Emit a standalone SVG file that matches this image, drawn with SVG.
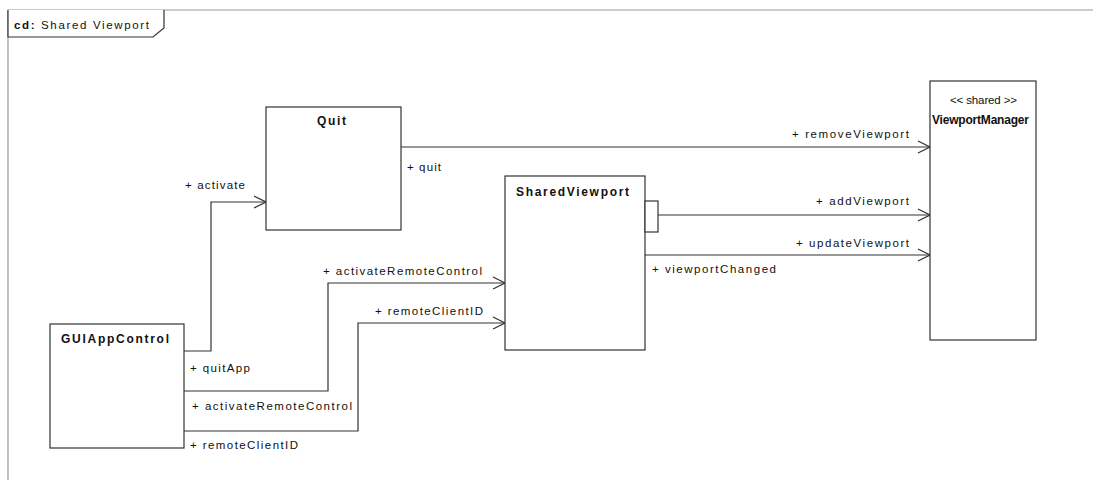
<svg xmlns="http://www.w3.org/2000/svg" width="1093" height="489" viewBox="0 0 1093 489">
<style>
.box{fill:#fff;stroke:#333;stroke-width:1.2}
.ln{fill:none;stroke:#333;stroke-width:1.2}
.frame{fill:none;stroke:#999;stroke-width:1.2}
text{font-family:"Liberation Sans",Arial,sans-serif;font-size:11.5px;fill:#111}
.t{font-weight:bold;font-size:12px}
</style>
<defs>
<marker id="arr" viewBox="0 0 14 14" refX="13" refY="7" markerWidth="14" markerHeight="14" markerUnits="userSpaceOnUse" orient="auto">
<path d="M1,1 L13,7 L1,13" fill="none" stroke="#333" stroke-width="1.2"/>
</marker>
</defs>
<rect width="1093" height="489" fill="#fff"/>
<g id="frame">
<path class="frame" d="M8,480 V10 H1093"/>
<path d="M8,10 V37 H153 L164,28 V10" fill="#fff" stroke="#333" stroke-width="1.2"/>
<text x="14" y="29" textLength="135" lengthAdjust="spacing"><tspan font-weight="bold">cd:</tspan> Shared Viewport</text>
</g>
<g id="connectors">
<path class="ln" d="M401,147 H930" marker-end="url(#arr)"/>
<path class="ln" d="M658,215 H930" marker-end="url(#arr)"/>
<path class="ln" d="M645,255 H930" marker-end="url(#arr)"/>
<path class="ln" d="M184,351 H211 V202 H266" marker-end="url(#arr)"/>
<path class="ln" d="M184,391 H328 V283 H505" marker-end="url(#arr)"/>
<path class="ln" d="M184,431 H358 V323 H505" marker-end="url(#arr)"/>
<text x="792" y="138" textLength="117" lengthAdjust="spacing">+ removeViewport</text>
<text x="407" y="171" textLength="34" lengthAdjust="spacing">+ quit</text>
<text x="816" y="205" textLength="93" lengthAdjust="spacing">+ addViewport</text>
<text x="796" y="247" textLength="113" lengthAdjust="spacing">+ updateViewport</text>
<text x="652" y="273" textLength="124" lengthAdjust="spacing">+ viewportChanged</text>
<text x="185" y="189" textLength="60" lengthAdjust="spacing">+ activate</text>
<text x="323" y="275" textLength="159" lengthAdjust="spacing">+ activateRemoteControl</text>
<text x="375" y="315" textLength="108" lengthAdjust="spacing">+ remoteClientID</text>
<text x="190" y="372" textLength="60" lengthAdjust="spacing">+ quitApp</text>
<text x="192" y="410" textLength="160" lengthAdjust="spacing">+ activateRemoteControl</text>
<text x="190" y="449" textLength="108" lengthAdjust="spacing">+ remoteClientID</text>
</g>
<g id="Quit">
<rect class="box" x="266" y="107" width="135" height="123"/>
<text class="t" x="317" y="125" textLength="29" lengthAdjust="spacing">Quit</text>
</g>
<g id="SharedViewport">
<rect class="box" x="505" y="176" width="140" height="174"/>
<rect class="box" x="645" y="201" width="13" height="31"/>
<text class="t" x="516" y="196" textLength="113" lengthAdjust="spacing">SharedViewport</text>
</g>
<g id="ViewportManager">
<rect class="box" x="930" y="81" width="106" height="259"/>
<text x="950" y="104" font-size="11" textLength="67" lengthAdjust="spacing">&lt;&lt; shared &gt;&gt;</text>
<text class="t" x="932" y="124" textLength="97" lengthAdjust="spacing">ViewportManager</text>
</g>
<g id="GUIAppControl">
<rect class="box" x="50" y="324" width="134" height="124"/>
<text class="t" x="61" y="343" textLength="108" lengthAdjust="spacing">GUIAppControl</text>
</g>
</svg>
